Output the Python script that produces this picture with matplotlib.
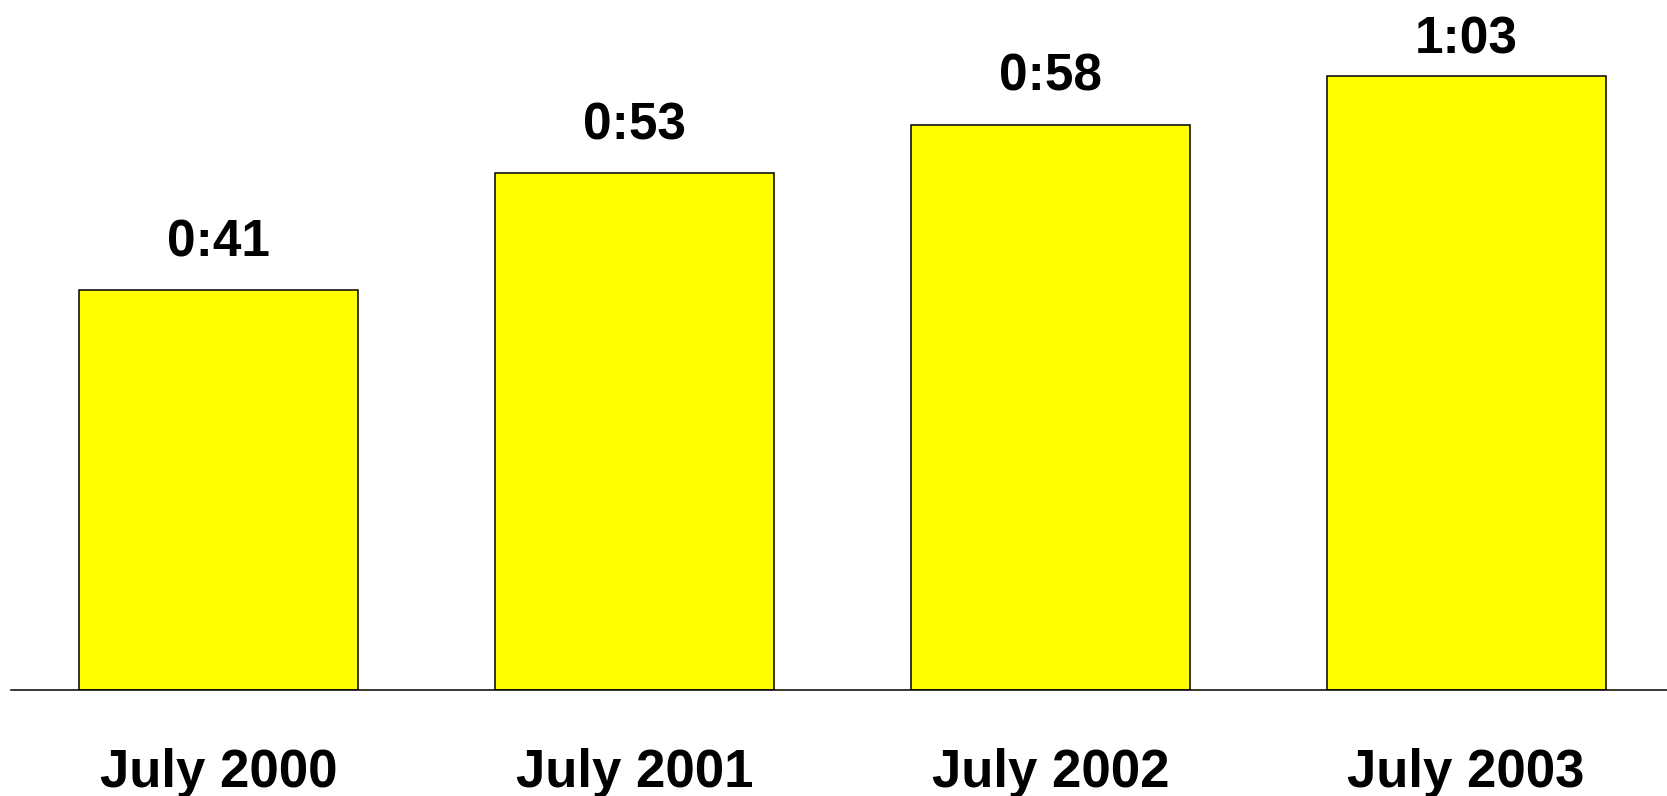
import matplotlib.pyplot as plt
import numpy as np

categories = ["July 2000", "July 2001", "July 2002", "July 2003"]
minutes = [41, 53, 58, 63]
labels = ["0:41", "0:53", "0:58", "1:03"]

plt.rcParams['font.family'] = ['Liberation Sans', 'DejaVu Sans']

fig = plt.figure(figsize=(16.67, 7.96), dpi=100)
ax = fig.add_axes([11 / 1667, (796 - 689.5) / 796, (1667 - 11) / 1667, 689.5 / 796])

x = np.arange(len(categories))
ax.bar(x, minutes, width=0.671, color="#FFFF00", edgecolor="black", linewidth=1.1)

ax.set_xlim(-0.499, 3.483)
ax.set_ylim(0, 70.8)

# value labels above bars (the top one is squeezed in under the page edge)
for xi, v, lab in zip(x, minutes, labels):
    ax.text(xi, min(v + 3.5, 65.3), lab, ha="center", va="baseline",
            fontsize=37, fontweight="bold")

# category labels under the baseline
for xi, cat in zip(x, categories):
    ax.text(xi, -0.1415, cat, transform=ax.get_xaxis_transform(),
            ha="center", va="baseline", fontsize=38, fontweight="bold")

for s in ["top", "right", "left"]:
    ax.spines[s].set_visible(False)
ax.spines["bottom"].set_linewidth(1.1)
ax.set_xticks([])
ax.set_yticks([])

fig.savefig("out.png", dpi=100)
